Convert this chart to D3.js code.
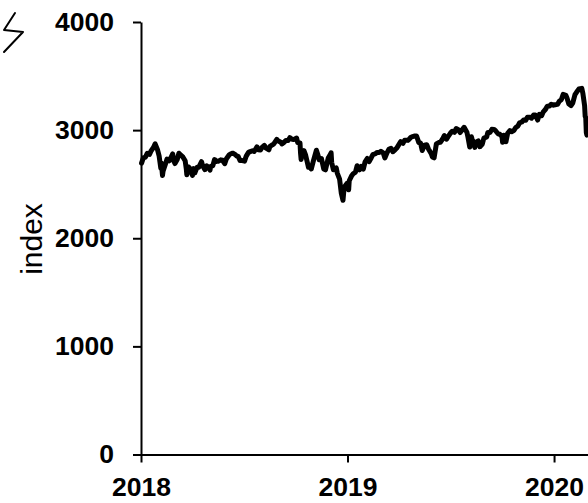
<!DOCTYPE html>
<html>
<head>
<meta charset="utf-8">
<script src="https://cdn.jsdelivr.net/npm/d3@7"></script>
<style>
  body { margin: 0; background: #fff; }
  svg { display: block; }
  .axis path, .axis line { stroke: #000; stroke-width: 2px; }
  .axis text { font-family: "Liberation Sans", Arial, sans-serif; font-weight: bold; font-size: 26.5px; fill: #000; }
  .ylabel { font-family: "Liberation Sans", Arial, sans-serif; font-size: 30px; fill: #000; }
  .indexLine { fill: none; stroke: #000; stroke-width: 5px; stroke-linejoin: round; stroke-linecap: round; }
</style>
</head>
<body>
<script>
// S&P 500 closes
var dates = [
  "2018-01-02","2018-01-05","2018-01-09","2018-01-12","2018-01-16","2018-01-19","2018-01-23","2018-01-26","2018-01-30",
  "2018-02-02","2018-02-05","2018-02-06","2018-02-08","2018-02-09","2018-02-14","2018-02-16","2018-02-20","2018-02-23",
  "2018-02-26","2018-02-28","2018-03-02","2018-03-06","2018-03-09","2018-03-13","2018-03-16","2018-03-20","2018-03-22",
  "2018-03-23","2018-03-26","2018-03-29","2018-04-02","2018-04-04","2018-04-06","2018-04-10","2018-04-13","2018-04-18",
  "2018-04-20","2018-04-24","2018-04-27","2018-05-01","2018-05-03","2018-05-04","2018-05-08","2018-05-11","2018-05-15",
  "2018-05-18","2018-05-22","2018-05-25","2018-05-29","2018-06-01","2018-06-06","2018-06-08","2018-06-12","2018-06-15",
  "2018-06-19","2018-06-22","2018-06-25","2018-06-29","2018-07-03","2018-07-06","2018-07-10","2018-07-13","2018-07-17",
  "2018-07-20","2018-07-25","2018-07-27","2018-07-31","2018-08-03","2018-08-07","2018-08-10","2018-08-15","2018-08-17",
  "2018-08-21","2018-08-24","2018-08-29","2018-08-31","2018-09-05","2018-09-07","2018-09-11","2018-09-14","2018-09-18",
  "2018-09-21","2018-09-25","2018-09-28","2018-10-03","2018-10-05","2018-10-09","2018-10-10","2018-10-11","2018-10-12",
  "2018-10-16","2018-10-19","2018-10-24","2018-10-26","2018-10-29","2018-11-02","2018-11-07","2018-11-09","2018-11-12",
  "2018-11-16","2018-11-20","2018-11-23","2018-11-28","2018-11-30","2018-12-03","2018-12-04","2018-12-07","2018-12-12",
  "2018-12-14","2018-12-18","2018-12-21","2018-12-24","2018-12-26","2018-12-28","2018-12-31",
  "2019-01-03","2019-01-04","2019-01-08","2019-01-11","2019-01-15","2019-01-18","2019-01-22","2019-01-25","2019-01-29",
  "2019-02-01","2019-02-05","2019-02-08","2019-02-12","2019-02-15","2019-02-19","2019-02-22","2019-02-26","2019-03-01",
  "2019-03-05","2019-03-08","2019-03-12","2019-03-15","2019-03-19","2019-03-22","2019-03-26","2019-03-29","2019-04-02",
  "2019-04-05","2019-04-09","2019-04-12","2019-04-16","2019-04-18","2019-04-23","2019-04-26","2019-04-30","2019-05-03",
  "2019-05-07","2019-05-10","2019-05-13","2019-05-17","2019-05-21","2019-05-24","2019-05-29","2019-05-31","2019-06-03",
  "2019-06-07","2019-06-11","2019-06-14","2019-06-18","2019-06-21","2019-06-25","2019-06-28","2019-07-02","2019-07-05",
  "2019-07-09","2019-07-12","2019-07-16","2019-07-19","2019-07-23","2019-07-26","2019-07-31","2019-08-02","2019-08-05",
  "2019-08-08","2019-08-09","2019-08-12","2019-08-14","2019-08-16","2019-08-20","2019-08-23","2019-08-27","2019-08-30",
  "2019-09-04","2019-09-06","2019-09-10","2019-09-13","2019-09-17","2019-09-20","2019-09-24","2019-09-27","2019-10-01",
  "2019-10-02","2019-10-04","2019-10-08","2019-10-11","2019-10-15","2019-10-18","2019-10-22","2019-10-25","2019-10-29",
  "2019-11-01","2019-11-05","2019-11-08","2019-11-12","2019-11-15","2019-11-19","2019-11-22","2019-11-26","2019-11-29",
  "2019-12-03","2019-12-06","2019-12-10","2019-12-13","2019-12-17","2019-12-20","2019-12-24","2019-12-27","2019-12-31",
  "2020-01-03","2020-01-07","2020-01-10","2020-01-14","2020-01-17","2020-01-22","2020-01-24","2020-01-27","2020-01-31",
  "2020-02-03","2020-02-07","2020-02-10","2020-02-14","2020-02-19","2020-02-21","2020-02-24","2020-02-25","2020-02-26",
  "2020-02-27","2020-02-28"
];
var closes = [
  2695,2743,2751,2786,2776,2810,2839,2873,2822,
  2762,2649,2695,2581,2620,2698,2732,2716,2747,
  2780,2714,2691,2728,2786,2765,2752,2717,2644,
  2588,2659,2641,2582,2644,2604,2656,2656,2708,
  2670,2634,2670,2655,2630,2663,2672,2728,2711,
  2713,2725,2721,2690,2735,2772,2779,2787,2780,
  2762,2755,2718,2718,2713,2760,2794,2801,2809,
  2802,2846,2819,2816,2840,2859,2833,2818,2850,
  2863,2875,2914,2902,2888,2872,2888,2905,2904,
  2930,2916,2914,2926,2885,2881,2786,2728,2767,
  2810,2768,2656,2658,2641,2723,2814,2781,2726,
  2736,2641,2633,2744,2760,2790,2701,2633,2651,
  2600,2546,2417,2351,2468,2486,2507,
  2448,2532,2575,2596,2611,2671,2633,2665,2640,
  2707,2738,2708,2745,2776,2780,2793,2793,2804,
  2790,2743,2792,2822,2832,2800,2818,2834,2868,
  2893,2878,2907,2907,2905,2934,2940,2946,2946,
  2884,2881,2812,2860,2865,2826,2783,2752,2744,
  2873,2885,2887,2918,2950,2917,2942,2973,2990,
  2979,3014,3004,2977,3005,3026,2980,2932,2844,
  2938,2919,2883,2840,2889,2900,2847,2869,2926,
  2937,2979,2979,3007,3006,2992,2966,2962,2940,
  2888,2952,2893,2970,2996,2986,2996,3023,3036,
  3067,3075,3093,3092,3120,3120,3110,3140,3141,
  3093,3146,3133,3169,3193,3221,3223,3240,3231,
  3235,3238,3265,3283,3330,3321,3295,3244,3226,
  3249,3328,3352,3380,3386,3338,3226,3128,3116,
  2979,2954
];
var yTicks = [0, 1000, 2000, 3000, 4000];
var xTickYears = ["2018-01-01", "2019-01-01", "2020-01-01"];

var margin = {top: 22, right: 0, bottom: 48, left: 141},
    width = 588 - margin.left - margin.right,
    height = 503 - margin.top - margin.bottom;

var parseDate = d3.timeParse("%Y-%m-%d");
var data = dates.map(function(d, i) { return {date: parseDate(d), value: closes[i]}; });

var svg = d3.select("body").append("svg")
    .attr("width", 588)
    .attr("height", 503);

var g = svg.append("g")
    .attr("transform", "translate(" + margin.left + "," + margin.top + ")");

var x = d3.scaleTime()
    .domain([parseDate("2018-01-01"), parseDate("2020-03-01")])
    .range([0, width]);

var y = d3.scaleLinear()
    .domain([0, 4000])
    .range([height - 0.5, 0]);

// x axis
g.append("g")
    .attr("class", "axis")
    .attr("transform", "translate(0," + y(0) + ")")
    .call(d3.axisBottom(x)
      .tickValues(xTickYears.map(parseDate))
      .tickFormat(d3.timeFormat("%Y"))
      .tickSizeInner(8).tickSizeOuter(0).tickPadding(15));

// y axis
g.append("g")
    .attr("class", "axis")
    .call(d3.axisLeft(y)
      .tickValues(yTicks)
      .tickFormat(d3.format("d"))
      .tickSizeInner(8).tickSizeOuter(0).tickPadding(19));

g.append("text")
    .attr("class", "ylabel")
    .attr("transform", "translate(" + (42 - margin.left) + "," + (239 - margin.top) + ") rotate(-90)")
    .attr("text-anchor", "middle")
    .text("index");

var line = d3.line()
    .x(function(d) { return x(d.date); })
    .y(function(d) { return y(d.value); });

g.append("path")
    .datum(data)
    .attr("class", "indexLine")
    .attr("d", line);

// hand-drawn mark at top left
svg.append("path")
    .attr("d", "M15,13 L4,30 L23,32 L4,52")
    .attr("fill", "none")
    .attr("stroke", "#000")
    .attr("stroke-width", 2)
    .attr("stroke-linejoin", "round")
    .attr("stroke-linecap", "round");
</script>
</body>
</html>
